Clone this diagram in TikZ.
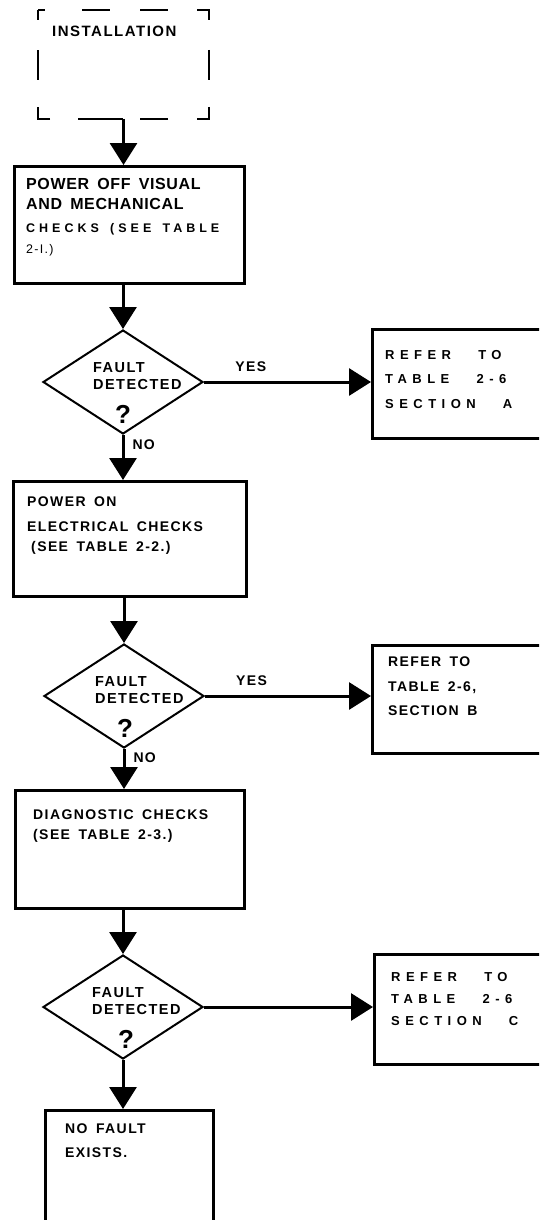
\documentclass[tikz,border=0pt]{standalone}
\usepackage{fontspec}
\setmainfont{Liberation Sans}
\newfontfamily\flowfont[LetterSpace=10,WordSpace=1.6]{Liberation Sans}
\newfontfamily\tightfont[LetterSpace=4,WordSpace=1.6]{Liberation Sans}
\newfontfamily\spreadfont[LetterSpace=42,WordSpace=3]{Liberation Sans}
\newfontfamily\thinfont[LetterSpace=32,WordSpace=1.5]{Liberation Sans}
\usetikzlibrary{shapes.geometric, arrows.meta}

\begin{document}
\begin{tikzpicture}[x=1pt, y=-1pt, >={Triangle[length=22pt,width=27pt]},
  procbox/.style={draw, line width=2.6pt, anchor=north west, inner sep=0pt},
  instbox/.style={anchor=north west, inner sep=0pt, outer sep=0pt},
  instdash/.style={line width=2.7pt, dash pattern=on 17pt off 37pt on 28pt off 30pt on 28pt off 29pt on 22pt off 30pt on 30pt off 27pt on 24pt off 29pt on 28pt off 17pt on 45pt off 28pt on 24pt off 27pt on 30pt off 30pt, dash phase=10pt},
  dec/.style={diamond, draw, line width=2pt, inner sep=0pt, minimum width=160pt, minimum height=104pt},
  txt/.style={anchor=north west, inner sep=0pt, align=left, font=\flowfont\bfseries\fontsize{14}{24.5}\selectfont},
  dectxt/.style={txt, font=\flowfont\bfseries\fontsize{14.5}{17}\selectfont},
  lbl/.style={inner sep=0pt, font=\flowfont\bfseries\fontsize{14}{16}\selectfont},
  flow/.style={->, line width=3pt}]
\useasboundingbox (0,0) rectangle (539,1220);
\clip (0,0) rectangle (539,1220);

% installation (dashed)
\node[instbox, minimum width=171pt, minimum height=109pt] (inst) at (38,10) {};
\draw[instdash] (inst.north west) -- (inst.north east) -- (inst.south east) -- (inst.south west) -- cycle;
\node[txt, font=\flowfont\bfseries\fontsize{15}{18}\selectfont] (insttxt) at ([shift={(14,16)}]inst.north west) {INSTALLATION};

% boxes down the left
\node[procbox, minimum width=230pt, minimum height=117pt] (pwroff) at (13,165) {};
\node[txt, font=\tightfont\bfseries\fontsize{16}{20}\selectfont] (pwrofftxt) at ([shift={(13,13)}]pwroff.north west)
  {POWER OFF VISUAL\\AND MECHANICAL\\[3pt]{\thinfont\fontsize{12.5}{21}\selectfont CHECKS (SEE TABLE}\\[1pt]{\flowfont\mdseries\fontsize{12.5}{21}\selectfont 2-I.)}};

\node[procbox, minimum width=233pt, minimum height=115pt] (pwron) at (12,480) {};
\node[txt, font=\flowfont\bfseries\fontsize{14}{25}\selectfont] (pwrontxt) at ([shift={(15,17)}]pwron.north west)
  {POWER ON\\ELECTRICAL CHECKS\\[-5pt]\hspace*{4pt}(SEE TABLE 2-2.)};

\node[procbox, minimum width=229pt, minimum height=118pt] (diag) at (14,789) {};
\node[txt, font=\flowfont\bfseries\fontsize{14}{20}\selectfont] (diagtxt) at ([shift={(19,21)}]diag.north west)
  {DIAGNOSTIC CHECKS\\(SEE TABLE 2-3.)};

\node[procbox, minimum width=168pt, minimum height=125pt] (nofault) at (44,1109) {};
\node[txt, font=\flowfont\bfseries\fontsize{14}{24}\selectfont] (nofaulttxt) at ([shift={(21,15)}]nofault.north west)
  {NO FAULT\\EXISTS.};

% decisions
\node[dec] (d1) at (123,382) {};
\node[dectxt] (d1txt) at ([shift={(-30,-20)}]d1.center) {FAULT\\DETECTED\\[15pt]\hspace*{22pt}{\fontsize{26}{26}\selectfont ?}};
\node[dec] (d2) at (124,696) {};
\node[dectxt] (d2txt) at ([shift={(-29,-20)}]d2.center) {FAULT\\DETECTED\\[15pt]\hspace*{22pt}{\fontsize{26}{26}\selectfont ?}};
\node[dec] (d3) at (123,1007) {};
\node[dectxt] (d3txt) at ([shift={(-31,-20)}]d3.center) {FAULT\\DETECTED\\[15pt]\hspace*{26pt}{\fontsize{26}{26}\selectfont ?}};

% boxes on the right
\node[procbox, minimum width=175pt, minimum height=109pt] (refa) at (371,328) {};
\node[txt, font=\spreadfont\bfseries\fontsize{13}{24.5}\selectfont] (refatxt) at ([shift={(14,22)}]refa.north west)
  {REFER TO\\TABLE 2-6\\SECTION A};
\node[procbox, minimum width=175pt, minimum height=108pt] (refb) at (371,644) {};
\node[txt] (refbtxt) at ([shift={(17,13)}]refb.north west)
  {REFER TO\\TABLE 2-6,\\SECTION B};
\node[procbox, minimum width=175pt, minimum height=110pt] (refc) at (373,953) {};
\node[txt, font=\spreadfont\bfseries\fontsize{13}{22}\selectfont] (refctxt) at ([shift={(18,19)}]refc.north west)
  {REFER TO\\TABLE 2-6\\SECTION C};

% connectors
\draw[flow] (inst.south) -- (inst.south |- pwroff.north);
\draw[flow] (d1.north |- pwroff.south) -- (d1.north);
\draw[flow] (d1.east) -- node[lbl, pos=0.28, above=9pt] (yes1) {YES} (d1.east -| refa.west);
\draw[flow] (d1.south) -- node[lbl, pos=0.22, right=8pt] (no1) {NO} (d1.south |- pwron.north);
\draw[flow] (d2.north |- pwron.south) -- (d2.north);
\draw[flow] (d2.east) -- node[lbl, pos=0.28, above=9pt] (yes2) {YES} (d2.east -| refb.west);
\draw[flow] (d2.south) -- node[lbl, pos=0.22, right=8pt] (no2) {NO} (d2.south |- diag.north);
\draw[flow] (d3.north |- diag.south) -- (d3.north);
\draw[flow] (d3.east) -- (d3.east -| refc.west);
\draw[flow] (d3.south) -- (d3.south |- nofault.north);
\end{tikzpicture}
\end{document}
